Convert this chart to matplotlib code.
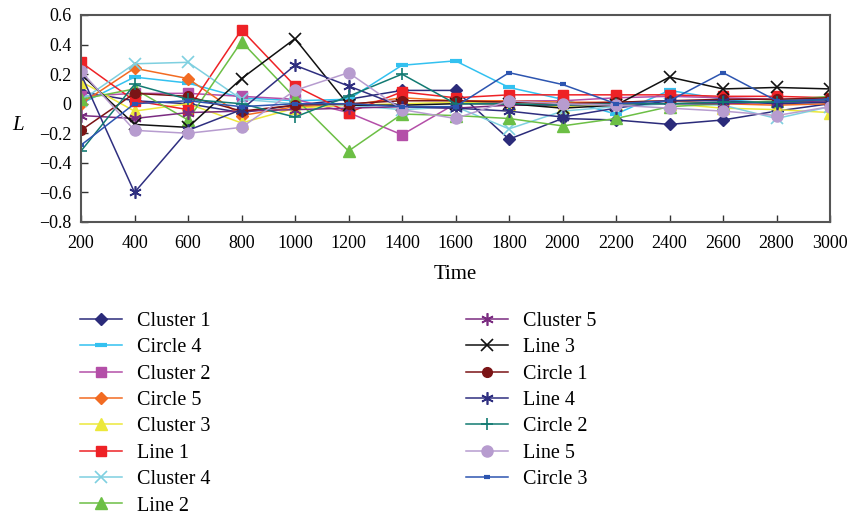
import matplotlib
matplotlib.use("Agg")
import matplotlib.pyplot as plt

time = [200, 400, 600, 800, 1000, 1200, 1400, 1600, 1800, 2000, 2200, 2400, 2600, 2800, 3000]

names = ["Cluster 1", "Circle 4", "Cluster 2", "Circle 5", "Cluster 3", "Line 1", "Cluster 4", "Line 2",
         "Cluster 5", "Line 3", "Circle 1", "Line 4", "Circle 2", "Line 5", "Circle 3"]

cluster1 = [0.08, 0.02, 0.00, -0.06, -0.01, 0.03, 0.09, 0.09, -0.24, -0.10, -0.11, -0.14, -0.11, -0.05, 0.00]
circle4 = [0.00, 0.18, 0.14, 0.04, 0.02, 0.03, 0.26, 0.29, 0.11, 0.03, -0.07, 0.09, 0.03, 0.00, 0.02]
cluster2 = [0.05, 0.07, 0.07, 0.05, 0.03, -0.06, -0.21, 0.00, 0.02, 0.02, 0.04, 0.05, 0.04, 0.03, 0.03]
circle5 = [0.00, 0.24, 0.17, -0.08, -0.02, -0.01, 0.04, 0.02, 0.02, 0.01, 0.01, 0.02, 0.00, -0.01, 0.00]
cluster3 = [0.15, -0.05, 0.00, -0.13, -0.03, -0.01, 0.00, 0.01, 0.00, -0.02, 0.00, 0.00, -0.03, -0.04, -0.06]
line1 = [0.28, 0.02, -0.04, 0.50, 0.12, -0.06, 0.08, 0.04, 0.06, 0.06, 0.06, 0.06, 0.05, 0.05, 0.04]
cluster4 = [0.02, 0.27, 0.28, 0.03, 0.00, -0.01, -0.04, -0.02, -0.17, -0.05, -0.02, 0.00, -0.01, -0.10, -0.02]
line2 = [0.03, 0.10, -0.11, 0.42, 0.04, -0.32, -0.07, -0.08, -0.10, -0.15, -0.10, -0.02, 0.00, 0.02, 0.05]
cluster5 = [-0.08, -0.10, -0.06, -0.05, -0.04, -0.03, -0.02, -0.03, -0.01, -0.01, 0.00, 0.00, 0.00, 0.01, 0.02]
line3 = [0.20, -0.14, -0.16, 0.17, 0.44, -0.01, -0.01, 0.00, 0.00, -0.03, -0.01, 0.18, 0.10, 0.11, 0.10]
circle1 = [-0.18, 0.07, 0.05, -0.05, -0.01, 0.00, 0.02, 0.02, 0.01, 0.00, 0.01, 0.02, 0.03, 0.03, 0.04]
line4 = [0.20, -0.60, -0.18, -0.04, 0.26, 0.12, -0.02, -0.03, -0.05, -0.09, -0.03, 0.02, 0.02, 0.00, 0.01]
circle2 = [-0.32, 0.13, 0.03, 0.00, -0.09, 0.05, 0.20, 0.00, 0.00, -0.01, 0.00, 0.00, 0.01, 0.01, 0.03]
line5 = [0.22, -0.18, -0.20, -0.16, 0.09, 0.21, -0.04, -0.10, 0.02, 0.00, -0.01, -0.03, -0.05, -0.08, -0.02]
circle3 = [-0.28, 0.00, 0.02, -0.02, 0.00, 0.00, -0.02, -0.02, 0.21, 0.13, 0.00, 0.02, 0.21, 0.02, 0.03]

series = [cluster1, circle4, cluster2, circle5, cluster3, line1, cluster4, line2,
          cluster5, line3, circle1, line4, circle2, line5, circle3]

colors = ["#2b2b7a", "#33c1f0", "#b44fa8", "#f26b22", "#ece83a", "#ee2226", "#7fd0e0", "#6cbf45",
          "#7a2b80", "#111111", "#7b1416", "#2f2f80", "#127a72", "#b79ccf", "#2d55b0"]
markers = ["D", "_", "s", "D", "^", "s", "x", "^",
           (6, 2, 0), "x", "o", (6, 2, 0), "+", "o", "_"]
msizes = [6, 8, 7, 6, 8, 7, 8, 8, 9, 9, 7, 9, 9, 8, 5]
mews = [1, 3, 1, 1, 1, 1, 1.2, 1, 1.2, 1.2, 1, 1.2, 1.2, 1, 3]

plt.rcParams['font.family'] = ['Liberation Serif', 'DejaVu Serif']

fig = plt.figure(figsize=(8.5, 5.16), dpi=100)
ax = fig.add_axes([81/850, 1-222/516, (830-81)/850, (222-15)/516])

handles = []
for y, n, c, m, ms, mew in zip(series, names, colors, markers, msizes, mews):
    h, = ax.plot(time, y, color=c, marker=m, markersize=ms, markeredgewidth=mew,
                 markeredgecolor=c, markerfacecolor=c, linewidth=1.1, label=n)
    handles.append(h)

ax.set_xlim(200, 3000)
ax.set_ylim(-0.8, 0.6)
ax.set_xticks(time)
ax.set_yticks([-0.8, -0.6, -0.4, -0.2, 0, 0.2, 0.4, 0.6])
ax.set_yticklabels(["\u22120.8", "\u22120.6", "\u22120.4", "\u22120.2", "0", "0.2", "0.4", "0.6"])
ax.tick_params(direction='in', length=5, width=1, labelsize=13, colors='#333333', labelcolor='black')
ax.tick_params(axis='x', pad=9)
ax.tick_params(axis='y', pad=7)
for s in ax.spines.values():
    s.set_color('#555555')
    s.set_linewidth(1.5)

ax.set_xlabel("Time", fontsize=15, labelpad=10)
fig.text(18/850, 1-125/516, "L", fontsize=15, style='italic', ha='center', va='center')

kw = dict(frameon=False, fontsize=14.5, handlelength=2.1, handletextpad=0.75,
          labelspacing=0.36, borderpad=0, borderaxespad=0, loc='upper left')
fig.legend(handles=handles[:8], bbox_to_anchor=(80/850, 1-312/516), **kw)
fig.legend(handles=handles[8:], bbox_to_anchor=(466/850, 1-312/516), **kw)

fig.savefig("out.png", dpi=100)
